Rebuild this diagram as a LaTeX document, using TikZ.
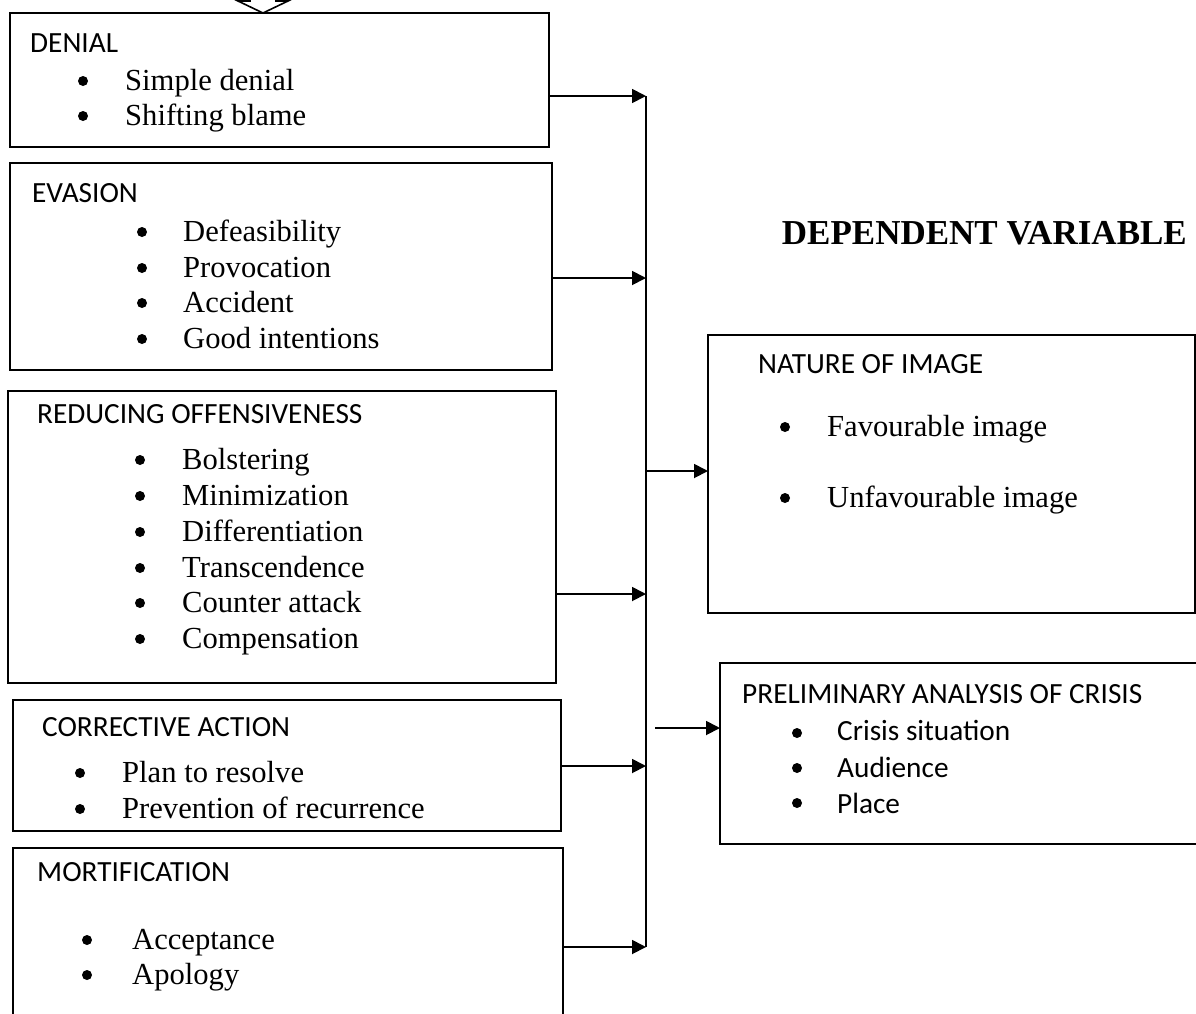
\documentclass[tikz,border=0pt]{standalone}
\usepackage{fontspec}
\setmainfont{Liberation Serif}
\newfontfamily\hdfont{Carlito}
\usetikzlibrary{arrows.meta}
\tikzset{
  box/.style={draw, line width=1.6pt},
  hd/.style={anchor=base west, inner sep=0pt, font=\hdfont\fontsize{29.3}{29.3}\selectfont},
  itm/.style={anchor=base west, inner sep=0pt, font=\fontsize{30.6}{30.6}\selectfont},
  itmsans/.style={anchor=base west, inner sep=0pt, font=\hdfont\fontsize{29.3}{29.3}\selectfont},
  conn/.style={line width=1.8pt, -{Triangle[length=14pt,width=14pt]}},
  bus/.style={line width=1.8pt},
}
\newcommand{\bul}[2]{\fill (#1,#2) circle (5pt);}
\begin{document}
\begin{tikzpicture}[x=1pt,y=-1pt]
\useasboundingbox (0,0) rectangle (1196,1013);
\clip (0,0) rectangle (1196,1013);
% top hollow arrow head
\draw[line width=1.6pt] (250,-10) -- (250,1) -- (238,1) -- (263,13) -- (288,1) -- (276,1) -- (276,-10);
% left boxes
\draw[box] (10,13) rectangle (549,147);
\draw[box] (10,163) rectangle (552,370);
\draw[box] (8,391) rectangle (556,683);
\draw[box] (13,700) rectangle (561,831);
\draw[box] (13,848) rectangle (563,1040);
\coordinate (dn) at (549,96);
\coordinate (ev) at (552,278);
\coordinate (ro) at (556,594);
\coordinate (ca) at (561,766);
\coordinate (mo) at (563,947);
% right boxes
\draw[box] (708,335) rectangle (1195,613);
\draw[box] (720,663) rectangle (1210,844);
% DENIAL
\node[hd] (h1) at (30,52) {DENIAL};
\bul{83}{81} \node[itm] (d1) at (125,90) {Simple denial};
\bul{83}{116} \node[itm] (d2) at (125,125) {Shifting blame};
% EVASION
\node[hd] (h2) at (32,202) {EVASION};
\bul{142}{232} \node[itm] (e1) at (183,241) {Defeasibility};
\bul{142}{268} \node[itm] (e2) at (183,277) {Provocation};
\bul{142}{303} \node[itm] (e3) at (183,312) {Accident};
\bul{142}{339} \node[itm] (e4) at (183,348) {Good intentions};
% REDUCING
\node[hd] (h3) at (37,423) {REDUCING OFFENSIVENESS};
\bul{140}{460} \node[itm] (r1) at (182,469) {Bolstering};
\bul{140}{496} \node[itm] (r2) at (182,505) {Minimization};
\bul{140}{532} \node[itm] (r3) at (182,541) {Differentiation};
\bul{140}{568} \node[itm] (r4) at (182,577) {Transcendence};
\bul{140}{603} \node[itm] (r5) at (182,612) {Counter attack};
\bul{140}{639} \node[itm] (r6) at (182,648) {Compensation};
% CORRECTIVE
\node[hd] (h4) at (42,736) {CORRECTIVE ACTION};
\bul{80}{773} \node[itm] (c1) at (122,782) {Plan to resolve};
\bul{80}{809} \node[itm] (c2) at (122,818) {Prevention of recurrence};
% MORTIFICATION
\node[hd] (h5) at (37,881) {MORTIFICATION};
\bul{87}{940} \node[itm] (m1) at (132,949) {Acceptance};
\bul{87}{975} \node[itm] (m2) at (132,984) {Apology};
% DEPENDENT VARIABLE
\node[anchor=base east, inner sep=0pt, font=\bfseries\fontsize{35}{35}\selectfont] (dv) at (1187,244) {DEPENDENT VARIABLE};
% NATURE
\node[hd] (h6) at (758,373) {NATURE OF IMAGE};
\bul{785}{427} \node[itm] (n1) at (827,436) {Favourable image};
\bul{785}{498} \node[itm] (n2) at (827,507) {Unfavourable image};
% PRELIMINARY
\node[hd] (h7) at (742,703) {PRELIMINARY ANALYSIS OF CRISIS};
\bul{797}{733} \node[itmsans] (p1) at (837,740) {Crisis situation};
\bul{797}{768} \node[itmsans] (p2) at (837,777) {Audience};
\bul{797}{803} \node[itmsans] (p3) at (837,813) {Place};
% connectors
\coordinate (bt) at (646,96);
\coordinate (bb) at (646,947);
\draw[bus] (bt) -- (bb);
\draw[conn] (dn) -- (dn -| bt);
\draw[conn] (ev) -- (ev -| bt);
\draw[conn] (ro) -- (ro -| bt);
\draw[conn] (ca) -- (ca -| bt);
\draw[conn] (mo) -- (mo -| bt);
\coordinate (na) at (708,471);
\draw[conn] (na -| bt) -- (na);
\coordinate (pa) at (720,728);
\coordinate (ps) at (655,728);
\draw[conn] (ps) -- (pa);
\end{tikzpicture}
\end{document}
